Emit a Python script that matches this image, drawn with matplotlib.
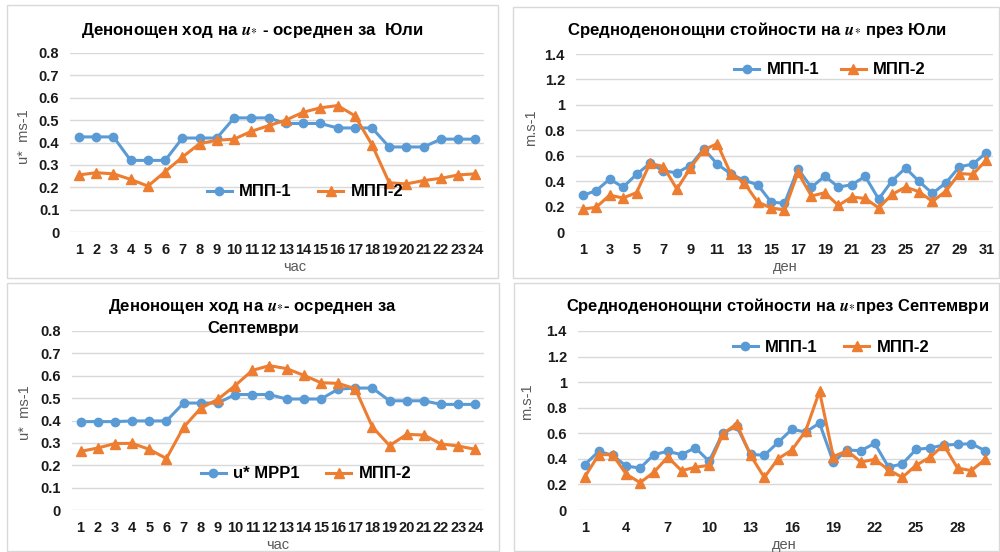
import matplotlib
matplotlib.use("Agg")
import matplotlib.pyplot as plt
from matplotlib.patches import Rectangle

plt.rcParams['font.family'] = ['Liberation Sans', 'DejaVu Sans']

# ---------------- data ----------------
hours = list(range(1, 25))
jul_hour_mpp1 = [0.425, 0.425, 0.425, 0.32, 0.32, 0.32, 0.42, 0.42, 0.42,
                 0.51, 0.51, 0.51, 0.485, 0.485, 0.485, 0.465, 0.465, 0.465,
                 0.38, 0.38, 0.38, 0.415, 0.415, 0.415]
jul_hour_mpp2 = [0.255, 0.265, 0.26, 0.235, 0.205, 0.27, 0.335, 0.395, 0.41,
                 0.415, 0.45, 0.475, 0.5, 0.535, 0.555, 0.565, 0.52, 0.39,
                 0.22, 0.215, 0.23, 0.24, 0.255, 0.26]

jul_days = list(range(1, 32))
jul_day_mpp1 = [0.288, 0.325, 0.416, 0.353, 0.453, 0.54, 0.48, 0.466, 0.523,
                0.654, 0.534, 0.458, 0.406, 0.372, 0.236, 0.225, 0.497, 0.351,
                0.44, 0.353, 0.372, 0.437, 0.259, 0.403, 0.503, 0.398, 0.304,
                0.387, 0.513, 0.534, 0.623]
jul_day_mpp2 = [0.18, 0.194, 0.29, 0.267, 0.31, 0.54, 0.515, 0.337, 0.503,
                0.647, 0.694, 0.46, 0.387, 0.236, 0.19, 0.172, 0.468, 0.283,
                0.309, 0.209, 0.275, 0.264, 0.19, 0.296, 0.353, 0.317, 0.24,
                0.322, 0.46, 0.453, 0.565]

sep_hour_mpp1 = [0.395, 0.395, 0.395, 0.398, 0.398, 0.398, 0.478, 0.478, 0.478,
                 0.516, 0.516, 0.516, 0.496, 0.496, 0.496, 0.54, 0.545, 0.545,
                 0.488, 0.488, 0.488, 0.472, 0.472, 0.472]
sep_hour_mpp2 = [0.262, 0.277, 0.297, 0.298, 0.271, 0.23, 0.37, 0.455, 0.495,
                 0.556, 0.624, 0.645, 0.632, 0.602, 0.569, 0.566, 0.542, 0.371,
                 0.288, 0.338, 0.335, 0.295, 0.286, 0.271]

sep_days = list(range(1, 31))
sep_day_mpp1 = [0.355, 0.459, 0.428, 0.344, 0.328, 0.433, 0.459, 0.433, 0.487,
                0.381, 0.602, 0.654, 0.435, 0.428, 0.529, 0.631, 0.61, 0.68,
                0.375, 0.469, 0.464, 0.521, 0.336, 0.36, 0.474, 0.485, 0.508,
                0.513, 0.519, 0.464]
sep_day_mpp2 = [0.26, 0.433, 0.433, 0.28, 0.214, 0.295, 0.415, 0.308, 0.334,
                0.35, 0.594, 0.675, 0.428, 0.255, 0.401, 0.469, 0.62, 0.928,
                0.417, 0.464, 0.375, 0.396, 0.315, 0.255, 0.35, 0.412, 0.508,
                0.328, 0.308, 0.396]

hour_yticks = [0, 0.1, 0.2, 0.3, 0.4, 0.5, 0.6, 0.7, 0.8]
hour_ylabels = ['0', '0.1', '0.2', '0.3', '0.4', '0.5', '0.6', '0.7', '0.8']
day_yticks = [0, 0.2, 0.4, 0.6, 0.8, 1.0, 1.2, 1.4]
day_ylabels = ['0', '0.2', '0.4', '0.6', '0.8', '1', '1.2', '1.4']
jul_xticks = list(range(1, 32, 2))
sep_xticks = list(range(1, 31, 3))

# ---------------- styling ----------------
W, H = 1000, 552
BLUE = '#5B9BD5'
ORANGE = '#ED7D31'
GRID = '#D9D9D9'
LABEL = '#595959'
U = r'$\mathbfit{u}_{*}$'

fig = plt.figure(figsize=(W / 100, H / 100), dpi=100)
renderer = fig.canvas.get_renderer()


def fx(x):
    return x / W


def fy(y):
    return 1 - y / H


def add_axes(x0, y0, x1, y1):
    return fig.add_axes([fx(x0), fy(y1), (x1 - x0) / W, (y1 - y0) / H])


# panel borders
for (x0, y0, x1, y1) in [(7, 5, 498, 278), (513, 7, 999, 278),
                         (7, 283, 499, 551), (514, 283, 999, 551)]:
    fig.patches.append(Rectangle((fx(x0), fy(y1)), (x1 - x0) / W, (y1 - y0) / H,
                                 transform=fig.transFigure, fill=False,
                                 edgecolor='#D9D9D9', linewidth=1.0))


def style(ax, x, yticks, ylabels, xticks, ymax):
    ax.set_xlim(0.5, len(x) + 0.5)
    ax.set_ylim(0, ymax)
    ax.set_yticks(yticks)
    ax.set_yticklabels(ylabels)
    ax.set_xticks(xticks)
    ax.set_xticklabels([str(t) for t in xticks])
    for s in ax.spines.values():
        s.set_visible(False)
    ax.grid(axis='y', color=GRID, linewidth=1.0)
    ax.set_axisbelow(True)
    ax.tick_params(length=0, labelsize=10.5, pad=8)
    for lbl in ax.get_xticklabels() + ax.get_yticklabels():
        lbl.set_fontweight('bold')
        lbl.set_color('#1a1a1a')
    ax.set_facecolor('none')


def plot_pair(ax, x, y1, y2, lab1, lab2, ms=6):
    l1, = ax.plot(x, y1, color=BLUE, lw=2.2, marker='o', ms=ms, label=lab1,
                  clip_on=False)
    l2, = ax.plot(x, y2, color=ORANGE, lw=2.2, marker='^', ms=ms + 0.5,
                  label=lab2, clip_on=False)
    return l1, l2


def legend(ax, handles, cx, cy, colsp=1.6):
    fig.legend(handles=handles, loc='center', bbox_to_anchor=(fx(cx), fy(cy)),
               ncol=2, frameon=False, prop={'weight': 'bold', 'size': 12},
               handlelength=1.5, columnspacing=colsp, handletextpad=0.45)


def title(x0, x1, cy, s, fs=12.5):
    t = fig.text(fx((x0 + x1) / 2), fy(cy), s, ha='center', va='center',
                 fontsize=fs, fontweight='bold', math_fontfamily='stix')
    w = t.get_window_extent(renderer).width
    t.set_fontsize(max(10.5, min(13.5, fs * (x1 - x0) / w)))
    return t


# ---- Panel 1 ----
ax1 = add_axes(70.4, 53, 484, 232)
h = plot_pair(ax1, hours, jul_hour_mpp1, jul_hour_mpp2, 'МПП-1', 'МПП-2')
style(ax1, hours, hour_yticks, hour_ylabels, hours, 0.8)
legend(ax1, h, 305, 192)
title(81, 423, 30, 'Денонощен ход на ' + U + ' - осреднен за  Юли')
fig.text(fx(24), fy(137), 'u*  ms-1', rotation=90, ha='center', va='center',
         fontsize=10.5, color=LABEL)
fig.text(fx(295), fy(267), 'час', ha='center', va='center', fontsize=10.5,
         color=LABEL)

# ---- Panel 2 ----
ax2 = add_axes(576, 54, 993, 232)
h = plot_pair(ax2, jul_days, jul_day_mpp1, jul_day_mpp2, 'МПП-1', 'МПП-2')
style(ax2, jul_days, day_yticks, day_ylabels, jul_xticks, 1.4)
legend(ax2, h, 830, 70, colsp=1.3)
title(568, 947, 30, 'Средноденонощни стойности на ' + U + ' през Юли')
fig.text(fx(531), fy(128), 'm.s-1', rotation=90, ha='center', va='center',
         fontsize=10.5, color=LABEL)
fig.text(fx(785), fy(267), 'ден', ha='center', va='center', fontsize=10.5,
         color=LABEL)

# ---- Panel 3 ----
ax3 = add_axes(72, 331, 484, 510)
h = plot_pair(ax3, hours, sep_hour_mpp1, sep_hour_mpp2, 'u* MPP1', 'МПП-2')
style(ax3, hours, hour_yticks, hour_ylabels, hours, 0.8)
legend(ax3, h, 306, 474)
t3 = title(108, 398, 307, 'Денонощен ход на ' + U + '- осреднен за')
fig.text(fx(253), fy(328), 'Септември', ha='center', va='center',
         fontsize=t3.get_fontsize(), fontweight='bold')
fig.text(fx(25), fy(413), 'u*  ms-1', rotation=90, ha='center', va='center',
         fontsize=10.5, color=LABEL)
fig.text(fx(278), fy(545), 'час', ha='center', va='center', fontsize=10.5,
         color=LABEL)

# ---- Panel 4 ----
ax4 = add_axes(578, 331, 992, 510)
h = plot_pair(ax4, sep_days, sep_day_mpp1, sep_day_mpp2, 'МПП-1', 'МПП-2')
style(ax4, sep_days, day_yticks, day_ylabels, sep_xticks, 1.4)
legend(ax4, h, 831, 347)
title(565, 990, 306, 'Средноденонощни стойности на ' + U + 'през Септември')
fig.text(fx(527), fy(402), 'm.s-1', rotation=90, ha='center', va='center',
         fontsize=10.5, color=LABEL)
fig.text(fx(784), fy(545), 'ден', ha='center', va='center', fontsize=10.5,
         color=LABEL)

fig.savefig('out.png', dpi=100, facecolor='white')
